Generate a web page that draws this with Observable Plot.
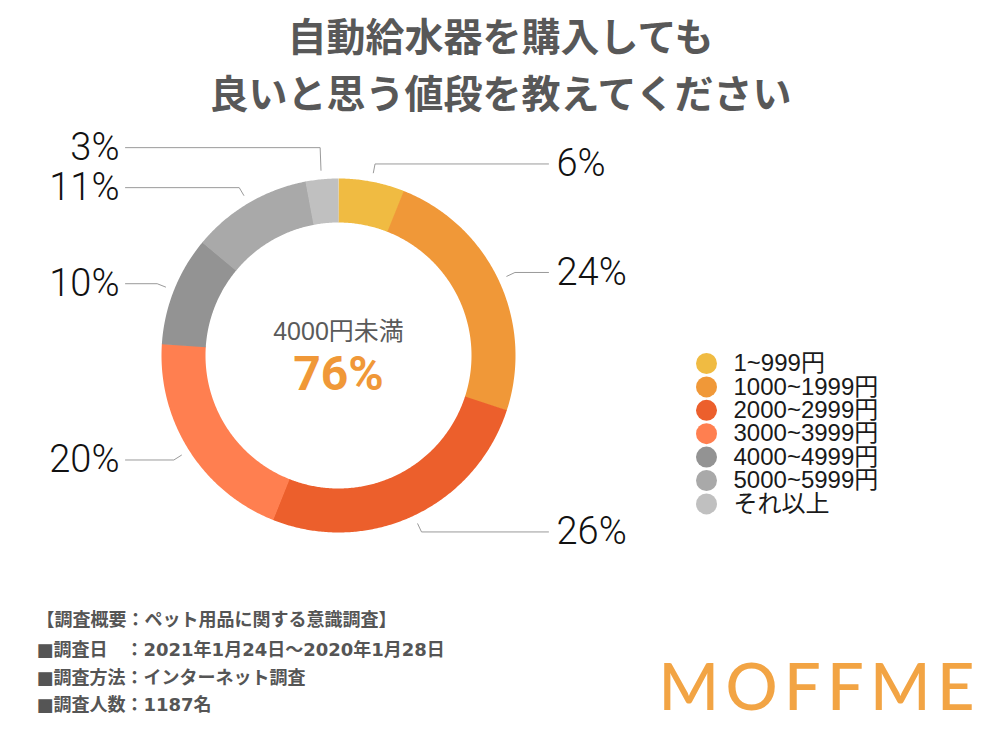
<!DOCTYPE html>
<html><head><meta charset="utf-8">
<script src="https://cdn.jsdelivr.net/npm/d3@7"></script>
<script src="https://cdn.jsdelivr.net/npm/@observablehq/plot@0.6"></script>
<style>body{margin:0;background:#fff}</style>
</head><body><div id="chart"></div>
<script>
// ---- data ----
const categories = ["1~999円","1000~1999円","2000~2999円","3000~3999円","4000~4999円","5000~5999円","それ以上"];
const values = [6, 24, 26, 20, 10, 11, 3];
const colors = ["#F0BB42","#F09838","#EC5F2C","#FF7F50","#939393","#A9A9A9","#C0C0C0"];
const titleLines = ["自動給水器を購入しても","良いと思う値段を教えてください"];
const centerLabel = "4000円未満";
const centerCount = 4; // first four categories are under 4000円
const footnotes = ["【調査概要：ペット用品に関する意識調査】","■調査日　：2021年1月24日〜2020年1月28日","■調査方法：インターネット調査","■調査人数：1187名"];
const brand = "MOFFME";

// ---- layout ----
const W = 1000, H = 750;
const cx = 338, cy = 355, rOuter = 177, rInner = 133;
const rMid = (rOuter + rInner) / 2, ring = rOuter - rInner;
const total = d3.sum(values);
const JP = "'Noto Sans CJK JP', 'Noto Sans', sans-serif";
const LAT = "'Liberation Sans', 'Noto Sans CJK JP', sans-serif";

// donut arcs as thick butt-capped strokes
const arcPts = [];
let cum = 0;
const slices = values.map((v, i) => {
  const a0 = cum / total * 2 * Math.PI; cum += v;
  const a1 = cum / total * 2 * Math.PI;
  return {cat: categories[i], v, a0, a1, mid: (a0 + a1) / 2};
});
slices.forEach((s, i) => {
  const end = s.a1 + (i < slices.length - 1 ? 0.004 : 0);
  const n = Math.max(4, Math.ceil((end - s.a0) / (Math.PI / 360)));
  for (let k = 0; k <= n; k++) {
    const a = s.a0 + (end - s.a0) * k / n;
    arcPts.push({cat: s.cat, x: cx + rMid * Math.sin(a), y: cy - rMid * Math.cos(a)});
  }
});

// leader lines + labels
const r1 = 186, r2 = 195;
const labels = slices.map(s => {
  const right = Math.sin(s.mid) >= 0;
  return {cat: s.cat, text: s.v + "%", right,
    x0: cx + r1 * Math.sin(s.mid), y0: cy - r1 * Math.cos(s.mid),
    ex: cx + r2 * Math.sin(s.mid), y: cy - r2 * Math.cos(s.mid)};
});
function resolve(list, gap) {
  list.sort((a, b) => a.y - b.y);
  for (let i = list.length - 2; i >= 0; i--) {
    if (list[i].y > list[i + 1].y - gap) list[i].y = list[i + 1].y - gap;
  }
}
resolve(labels.filter(d => d.right), 40);
resolve(labels.filter(d => !d.right), 40);
const leaderPts = [];
labels.forEach(d => {
  const endX = d.right ? cx + 210 : cx - 213;
  leaderPts.push({cat: d.cat, x: d.x0, y: d.y0});
  leaderPts.push({cat: d.cat, x: d.ex, y: d.y});
  leaderPts.push({cat: d.cat, x: endX, y: d.y});
  d.tx = d.right ? endX + 8 : endX - 6;
});

const legendRows = categories.map((c, i) => ({cat: c, x: 706, y: 363 + i * 23.4}));
const underPct = d3.sum(values.slice(0, centerCount));
const titleRows = titleLines.map((t, i) => ({text: t, x: W / 2, y: 38 + i * 57}));
const footRows = footnotes.map((t, i) => ({text: t, x: 36, y: [620, 650, 678, 705][i]}));

const chart = Plot.plot({
  width: W, height: H, margin: 0,
  x: {domain: [0, W], range: [0, W], axis: null},
  y: {domain: [0, H], range: [0, H], axis: null},
  color: {domain: categories, range: colors},
  style: {background: "#fff", fontFamily: JP},
  marks: [
    Plot.line(arcPts, {x: "x", y: "y", z: "cat", stroke: "cat", strokeWidth: ring, strokeLinecap: "butt", strokeLinejoin: "round"}),
    Plot.line(leaderPts, {x: "x", y: "y", z: "cat", stroke: "#9a9a9a", strokeWidth: 1}),
    Plot.text(labels.filter(d => d.right), {x: "tx", y: "y", text: "text", textAnchor: "start", fontSize: 38, fontWeight: 300, fontFamily: "Roboto, 'Liberation Sans', sans-serif", fill: "#111"}),
    Plot.text(labels.filter(d => !d.right), {x: "tx", y: "y", text: "text", textAnchor: "end", fontSize: 38, fontWeight: 300, fontFamily: "Roboto, 'Liberation Sans', sans-serif", fill: "#111"}),
    Plot.text([{text: centerLabel, x: cx, y: 331}], {x: "x", y: "y", text: "text", fontSize: 25, fill: "#5a5a5a", fontFamily: LAT}),
    Plot.text([{text: underPct + "%", x: cx, y: 374}], {x: "x", y: "y", text: "text", fontSize: 48, fontWeight: "bold", fill: "#F09838", fontFamily: "Roboto, 'Liberation Sans', sans-serif"}),
    Plot.dot(legendRows, {x: "x", y: "y", r: 10.5, fill: "cat"}),
    Plot.text(legendRows, {x: d => d.x + 27, y: "y", text: "cat", textAnchor: "start", fontSize: 24, fill: "#1a1a1a", fontFamily: LAT}),
    Plot.text(titleRows, {x: "x", y: "y", text: "text", fontSize: 39, fontWeight: "bold", fill: "#585858", fontFamily: JP}),
    Plot.text(footRows, {x: "x", y: "y", text: "text", textAnchor: "start", fontSize: 18, fontWeight: "bold", fill: "#555", fontFamily: "'DejaVu Sans', 'Noto Sans CJK JP', sans-serif"}),
    Plot.text([{text: brand, x: 658, y: 689}], {x: "x", y: "y", text: "text", textAnchor: "start", fontSize: 65, fontWeight: 500, fill: "#F2A444", fontFamily: "Lato, 'Open Sans', sans-serif"})
  ]
});
document.getElementById("chart").appendChild(chart);
d3.select(chart).selectAll("text").filter(function () { return this.textContent === brand; })
  .attr("textLength", 316).attr("lengthAdjust", "spacing");
</script>
</body></html>
